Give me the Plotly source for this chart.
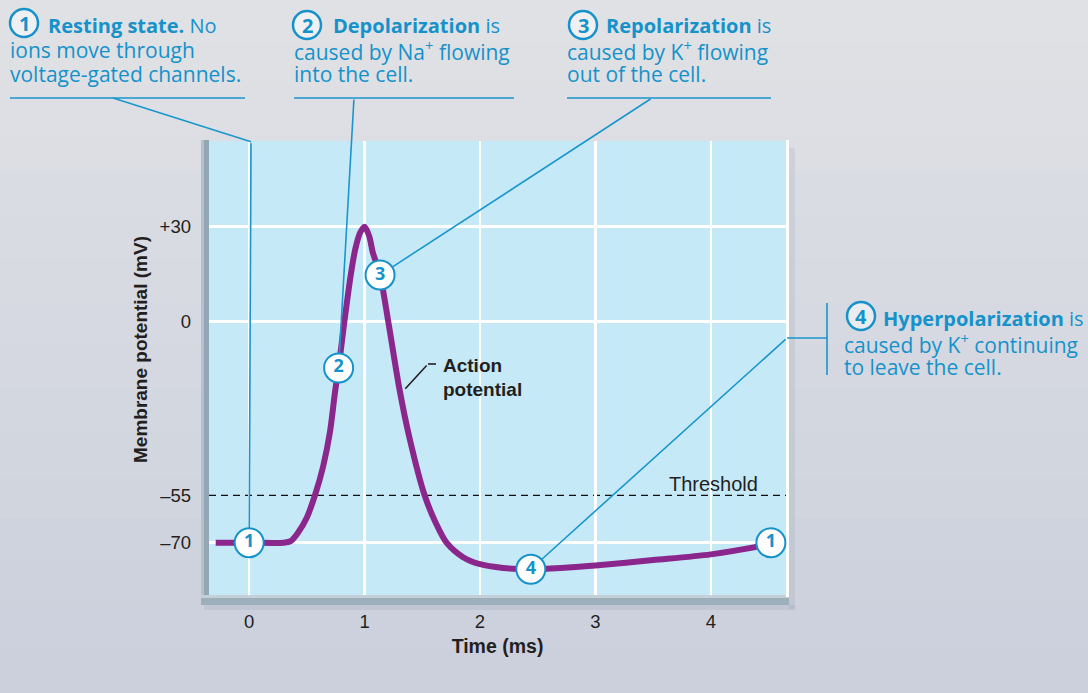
import plotly.graph_objects as go

# ---------------- data ----------------
time_ms = [-0.29, 0.0, 0.3, 0.36, 0.42, 0.5, 0.57, 0.64, 0.70, 0.745, 0.775, 0.825, 0.88, 0.92,
           0.96, 1.0, 1.04, 1.07, 1.134, 1.205, 1.30, 1.39, 1.52, 1.62, 1.71, 1.85, 2.0, 2.2,
           2.44, 2.7, 3.0, 3.5, 4.0, 4.52, 4.651]
membrane_mv = [-70, -70, -70, -69.5, -67, -62, -55, -46, -35, -22, -14.7, 0, 14.7, 23,
               28, 30, 27, 22, 14.7, 0, -21, -37, -55, -64, -70, -74.5, -76.8, -78,
               -78.4, -78, -77.2, -75.5, -73.7, -70.5, -69.5]
stage_t = [0.0, 0.775, 1.134, 2.44, 4.52]
stage_v = [-70, -14.7, 14.7, -78.4, -70]
stage_labels = ["1", "2", "3", "4", "1"]
threshold_mv = -55
xtick_vals = [0, 1, 2, 3, 4]
xtick_text = ["0", "1", "2", "3", "4"]
ytick_vals = [-70, -55, 0, 30]
ytick_text = ["\u201370", "\u201355", "0", "+30"]
ygrid_vals = [-70, 0, 30]

# ---------------- layout geometry ----------------
W, H = 1088, 693
L, R, T, B = 209, 786, 141, 595
XR = [-0.348, 4.651]
YR = [-86.55, 57.1]

BLUE = "#1592ca"
LINEBLUE = "#1996cd"
PURPLE = "#8b268c"
DARK = "#231f20"
TXTFONT = "Open Sans"
AXFONT = "Liberation Sans"


def px(x):
    return (x - L) / (R - L)


def py(y):
    return (B - y) / (B - T)


def dx(x):
    return XR[0] + (x - L) / (R - L) * (XR[1] - XR[0])


def dy(y):
    return YR[0] + (B - y) / (B - T) * (YR[1] - YR[0])


shapes = []
# background vertical gradient
top_c = (224, 225, 229)
bot_c = (203, 208, 220)
n = 16
for i in range(n):
    f = i / (n - 1)
    c = tuple(int(round(top_c[k] + (bot_c[k] - top_c[k]) * f)) for k in range(3))
    shapes.append(dict(type="rect", xref="paper", yref="paper", layer="below",
                       x0=px(-2), x1=px(W + 2), y0=py(H * (i + 1) / n + 1), y1=py(H * i / n - 1),
                       fillcolor="rgb(%d,%d,%d)" % c, line=dict(width=0)))
# soft shadow
shapes.append(dict(type="rect", xref="paper", yref="paper", layer="below",
                   x0=px(789), x1=px(795), y0=py(609), y1=py(148),
                   fillcolor="rgba(110,120,140,0.12)", line=dict(width=0)))
shapes.append(dict(type="rect", xref="paper", yref="paper", layer="below",
                   x0=px(204), x1=px(795), y0=py(610), y1=py(605),
                   fillcolor="rgba(110,120,140,0.12)", line=dict(width=0)))
# plot background
shapes.append(dict(type="rect", xref="paper", yref="paper", layer="below",
                   x0=0, x1=1, y0=0, y1=1, fillcolor="#c6e9f8", line=dict(width=0)))
# frame
shapes.append(dict(type="rect", xref="paper", yref="paper", layer="below",
                   x0=px(201), x1=px(209), y0=py(605), y1=py(140),
                   fillcolor="#93a6b3", line=dict(width=0)))
shapes.append(dict(type="rect", xref="paper", yref="paper", layer="below",
                   x0=px(201), x1=px(204), y0=py(605), y1=py(140),
                   fillcolor="#b3c1cb", line=dict(width=0)))
shapes.append(dict(type="rect", xref="paper", yref="paper", layer="below",
                   x0=px(201), x1=px(789), y0=py(605), y1=py(595),
                   fillcolor="#9dafba", line=dict(width=0)))
shapes.append(dict(type="rect", xref="paper", yref="paper", layer="below",
                   x0=px(201), x1=px(789), y0=py(598), y1=py(595),
                   fillcolor="#c3d0d8", line=dict(width=0)))
shapes.append(dict(type="rect", xref="paper", yref="paper", layer="below",
                   x0=px(786), x1=px(789), y0=py(597), y1=py(140),
                   fillcolor="#ffffff", line=dict(width=0)))
# threshold
shapes.append(dict(type="line", xref="x domain", yref="y", layer="below",
                   x0=0, x1=1, y0=threshold_mv, y1=threshold_mv,
                   line=dict(color="#111111", width=1.3, dash="7px,5px")))


def seg(x0, y0, x1, y1, color=LINEBLUE, w=1.6):
    shapes.append(dict(type="line", xref="paper", yref="paper",
                       x0=px(x0), y0=py(y0), x1=px(x1), y1=py(y1),
                       line=dict(color=color, width=w)))


# callout decorations (text side)
seg(10, 98, 245, 98)
seg(113, 98, 251, 141.7)
seg(294, 98, 514, 98)
seg(567, 98, 771, 98)
seg(787, 338, 827, 338)
seg(827, 303, 827, 375)
seg(428, 364, 436, 364, color=DARK, w=1.6)

# header number circles
circles = [(24, 23, "1"), (307, 25, "2"), (583, 25, "3"), (861, 316, "4")]
annotations = []
for cx, cy, lab in circles:
    shapes.append(dict(type="circle", xref="paper", yref="paper",
                       x0=px(cx - 14), x1=px(cx + 14), y0=py(cy + 14), y1=py(cy - 14),
                       fillcolor="rgba(255,255,255,0.5)", line=dict(color=BLUE, width=2.5)))
    annotations.append(dict(xref="paper", yref="paper", x=px(cx), y=py(cy + 0.5),
                            text=lab, showarrow=False, xanchor="center", yanchor="middle",
                            font=dict(family=TXTFONT, size=20, color=BLUE, weight="bold")))


def txt(x, y, s, size=21, color=BLUE, family=TXTFONT):
    annotations.append(dict(xref="paper", yref="paper", x=px(x), y=py(y), text=s,
                            showarrow=False, xanchor="left", yanchor="middle",
                            font=dict(family=family, size=size, color=color)))


txt(46, 25, "<b>Resting state.</b> No", size=20)
txt(8, 50, "ions move through")
txt(8, 74, "voltage-gated channels.")
txt(331, 25, "<b>Depolarization</b> is", size=20)
txt(292, 50, "caused by Na<sup>+</sup> flowing")
txt(292, 74, "into the cell.")
txt(604, 25, "<b>Repolarization</b> is", size=20)
txt(565, 50, "caused by K<sup>+</sup> flowing")
txt(565, 74, "out of the cell.")
txt(881, 318, "<b>Hyperpolarization</b> is", size=20)
txt(842, 343, "caused by K<sup>+</sup> continuing")
txt(842, 367, "to leave the cell.")

txt(441, 365, "<b>Action</b>", size=19, color=DARK, family=AXFONT)
txt(441, 389, "<b>potential</b>", size=19, color=DARK, family=AXFONT)
txt(667, 484, "Threshold", size=20, color=DARK, family=AXFONT)

annotations.append(dict(xref="paper", yref="paper", x=px(140), y=py(350),
                        text="<b>Membrane potential (mV)</b>", textangle=-90, showarrow=False,
                        xanchor="center", yanchor="middle",
                        font=dict(family=AXFONT, size=19, color=DARK)))

# callout lines from the stage markers to the text blocks
for idx, tail in enumerate([(251, 141.7), (354, 98), (652, 98), (787, 338)]):
    annotations.append(dict(x=stage_t[idx], y=stage_v[idx], xref="x", yref="y",
                            ax=dx(tail[0]), ay=dy(tail[1]), axref="x", ayref="y",
                            text="", showarrow=True, arrowhead=0, arrowwidth=1.6,
                            arrowcolor=LINEBLUE, standoff=14.5))
# action potential leader
annotations.append(dict(x=1.335, y=-22, xref="x", yref="y",
                        ax=dx(428), ay=dy(364), axref="x", ayref="y",
                        text="", showarrow=True, arrowhead=0, arrowwidth=1.6,
                        arrowcolor=DARK, standoff=3))

fig = go.Figure()
fig.add_trace(go.Scatter(x=time_ms, y=membrane_mv, mode="lines",
                         line=dict(color=PURPLE, width=6, shape="spline", smoothing=0.8),
                         hoverinfo="skip", showlegend=False))
fig.add_trace(go.Scatter(x=stage_t, y=stage_v, mode="markers+text", text=stage_labels,
                         textposition="middle center", cliponaxis=False,
                         marker=dict(size=29, color="white", line=dict(color=BLUE, width=2)),
                         textfont=dict(family=TXTFONT, size=18, color=BLUE, weight="bold"),
                         hoverinfo="skip", showlegend=False))

fig.update_layout(
    width=W, height=H, autosize=False,
    margin=dict(l=L, r=W - R, t=T, b=H - B, pad=0),
    paper_bgcolor="#d6d8de", plot_bgcolor="rgba(0,0,0,0)",
    shapes=shapes, annotations=annotations,
    xaxis=dict(range=XR, tickvals=xtick_vals, ticktext=xtick_text, showgrid=True,
               gridcolor="white", gridwidth=2.5, zeroline=False, showline=False,
               ticks="", ticklabelstandoff=13,
               tickfont=dict(family=AXFONT, size=18.5, color=DARK),
               title=dict(text="<b>Time (ms)</b>", standoff=8,
                          font=dict(family=AXFONT, size=19.5, color=DARK))),
    yaxis=dict(range=YR, tickvals=ytick_vals, ticktext=ytick_text, showgrid=False,
               zeroline=False, showline=False, ticks="", ticklabelstandoff=17,
               tickfont=dict(family=AXFONT, size=18.5, color=DARK),
               minor=dict(tickmode="array", tickvals=ygrid_vals, showgrid=True,
                          gridcolor="white", gridwidth=2.5)),
)

fig.write_html("out.html", config={"displayModeBar": False, "staticPlot": True},
               post_script="document.body.style.margin='0';document.body.style.overflow='hidden';")
